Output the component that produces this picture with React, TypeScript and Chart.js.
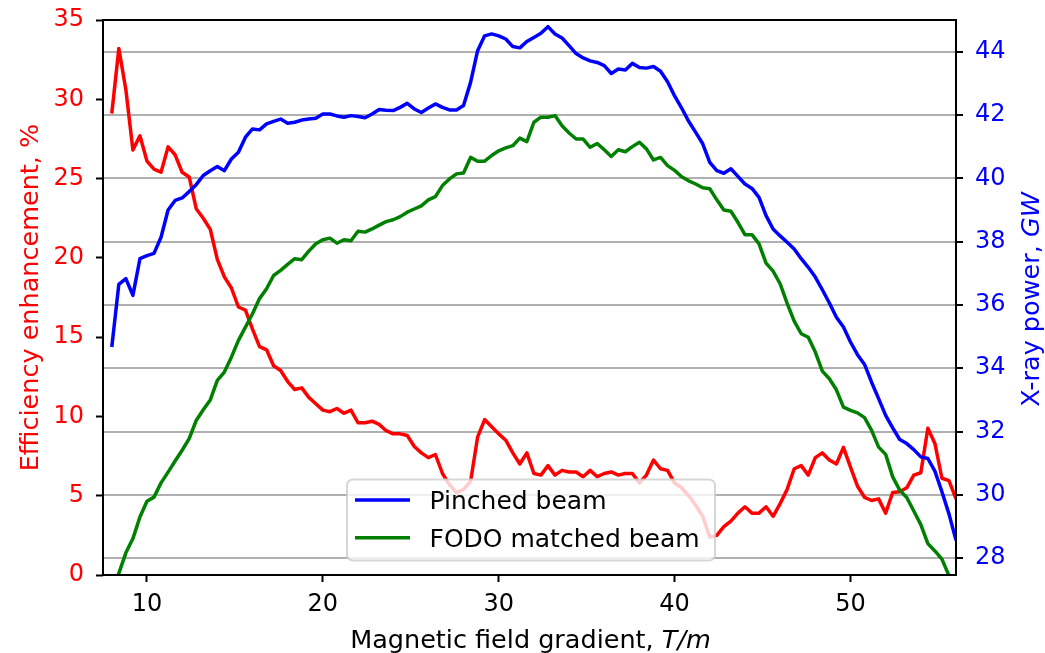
import React, { useEffect, useRef } from "react";
import { Chart, registerables } from "chart.js";

Chart.register(...registerables);

// Magnetic field gradient, T/m
const gradient = [
  8.0, 8.4, 8.8, 9.2, 9.6, 10.0, 10.4, 10.8, 11.2, 11.6, 12.0, 12.4, 12.8, 13.2, 13.6, 14.0, 14.4, 14.8, 15.2, 15.6,
  16.0, 16.4, 16.8, 17.2, 17.6, 18.0, 18.4, 18.8, 19.2, 19.6, 20.0, 20.4, 20.8, 21.2, 21.6, 22.0, 22.4, 22.8, 23.2, 23.6,
  24.0, 24.4, 24.8, 25.2, 25.6, 26.0, 26.4, 26.8, 27.2, 27.6, 28.0, 28.4, 28.8, 29.2, 29.6, 30.0, 30.4, 30.8, 31.2, 31.6,
  32.0, 32.4, 32.8, 33.2, 33.6, 34.0, 34.4, 34.8, 35.2, 35.6, 36.0, 36.4, 36.8, 37.2, 37.6, 38.0, 38.4, 38.8, 39.2, 39.6,
  40.0, 40.4, 40.8, 41.2, 41.6, 42.0, 42.4, 42.8, 43.2, 43.6, 44.0, 44.4, 44.8, 45.2, 45.6, 46.0, 46.4, 46.8, 47.2, 47.6,
  48.0, 48.4, 48.8, 49.2, 49.6, 50.0, 50.4, 50.8, 51.2, 51.6, 52.0, 52.4, 52.8, 53.2, 53.6, 54.0, 54.4, 54.8, 55.2, 55.6,
  56.0,
];

// Efficiency enhancement, % (left axis)
const efficiency = [
  29.1, 33.2, 30.6, 26.8, 27.7, 26.1, 25.6, 25.4, 27.0, 26.5, 25.4, 25.1, 23.1, 22.5, 21.8, 19.9, 18.8, 18.1, 16.9, 16.7,
  15.5, 14.4, 14.2, 13.2, 12.9, 12.2, 11.7, 11.8, 11.2, 10.8, 10.4, 10.3, 10.5, 10.2, 10.4, 9.6, 9.6, 9.7, 9.5, 9.1,
  8.9, 8.9, 8.8, 8.1, 7.7, 7.4, 7.6, 6.4, 5.7, 5.2, 5.4, 5.9, 8.7, 9.8, 9.35, 8.9, 8.5, 7.7, 7.0, 7.7,
  6.4, 6.3, 6.9, 6.3, 6.6, 6.5, 6.5, 6.2, 6.6, 6.2, 6.4, 6.5, 6.3, 6.4, 6.4, 5.8, 6.3, 7.25, 6.7, 6.6,
  5.8, 5.5, 5.0, 4.4, 3.7, 2.4, 2.5, 3.05, 3.4, 3.9, 4.3, 3.9, 3.9, 4.3, 3.7, 4.5, 5.4, 6.7, 6.9, 6.3,
  7.4, 7.7, 7.25, 7.0, 8.05, 6.8, 5.6, 4.9, 4.7, 4.8, 3.9, 5.2, 5.25, 5.5, 6.3, 6.45, 9.25, 8.3, 6.1, 5.95,
  4.8,
];

// X-ray power, GW (right axis) - Pinched beam
const pinchedPower = [
  34.67, 36.65, 36.83, 36.3, 37.46, 37.56, 37.63, 38.14, 39.0, 39.3, 39.38, 39.58, 39.8, 40.09, 40.24, 40.37, 40.24, 40.61, 40.82, 41.3,
  41.56, 41.53, 41.72, 41.8, 41.87, 41.74, 41.77, 41.84, 41.87, 41.9, 42.03, 42.03, 41.97, 41.93, 41.98, 41.95, 41.91, 42.03, 42.17, 42.15,
  42.14, 42.24, 42.37, 42.19, 42.08, 42.22, 42.35, 42.24, 42.16, 42.16, 42.3, 43.03, 44.03, 44.5, 44.56, 44.5, 44.4, 44.16, 44.12, 44.32,
  44.45, 44.58, 44.79, 44.56, 44.43, 44.19, 43.94, 43.8, 43.71, 43.66, 43.56, 43.31, 43.45, 43.42, 43.63, 43.5, 43.48, 43.53, 43.38, 43.05,
  42.6, 42.22, 41.8, 41.45, 41.09, 40.5, 40.24, 40.16, 40.3, 40.06, 39.82, 39.68, 39.4, 38.82, 38.4, 38.18, 37.98, 37.77, 37.46, 37.19,
  36.88, 36.48, 36.06, 35.61, 35.3, 34.83, 34.43, 34.12, 33.56, 33.04, 32.51, 32.12, 31.75, 31.62, 31.43, 31.2, 31.15, 30.75, 30.1, 29.4,
  28.57,
];

// X-ray power, GW (right axis) - FODO matched beam
const fodoPower = [
  27.1, 27.52, 28.17, 28.62, 29.3, 29.8, 29.93, 30.38, 30.72, 31.07, 31.41, 31.78, 32.35, 32.69, 33.0, 33.62, 33.88, 34.35, 34.88, 35.3,
  35.72, 36.2, 36.51, 36.93, 37.09, 37.28, 37.46, 37.43, 37.7, 37.93, 38.06, 38.11, 37.95, 38.06, 38.03, 38.33, 38.3, 38.4, 38.52, 38.63,
  38.69, 38.79, 38.93, 39.03, 39.13, 39.32, 39.42, 39.77, 39.98, 40.14, 40.17, 40.66, 40.54, 40.54, 40.72, 40.87, 40.96, 41.03, 41.27, 41.16,
  41.77, 41.93, 41.93, 41.98, 41.66, 41.43, 41.24, 41.24, 40.98, 41.1, 40.9, 40.69, 40.9, 40.84, 41.0, 41.14, 40.93, 40.58, 40.66, 40.4,
  40.25, 40.05, 39.92, 39.82, 39.7, 39.67, 39.32, 39.0, 38.96, 38.61, 38.22, 38.22, 37.93, 37.32, 37.07, 36.67, 36.05, 35.49, 35.09, 34.98,
  34.51, 33.91, 33.67, 33.32, 32.77, 32.67, 32.59, 32.44, 32.04, 31.51, 31.28, 30.57, 30.15, 29.92, 29.49, 29.06, 28.46, 28.23, 27.97, 27.45,
  26.9,
];

const xTicks = [10, 20, 30, 40, 50];
const leftTicks = [0, 5, 10, 15, 20, 25, 30, 35];
const rightTicks = [28, 30, 32, 34, 36, 38, 40, 42, 44];

const seriesLabels = ["Pinched beam", "FODO matched beam", "Efficiency enhancement"];
const xTitle = [
  { text: "Magnetic field gradient, ", italic: false },
  { text: "T/m", italic: true },
];
const leftTitle = [{ text: "Efficiency enhancement, %", italic: false }];
const rightTitle = [
  { text: "X-ray power, ", italic: false },
  { text: "GW", italic: true },
];

const FONT = "'DejaVu Sans', sans-serif";
const TITLE_SIZE = 25.5;

function drawMixed(ctx: CanvasRenderingContext2D, segs: { text: string; italic: boolean }[], x: number, y: number, color: string) {
  const fontFor = (it: boolean) => `${it ? "italic " : ""}${TITLE_SIZE}px ${FONT}`;
  let total = 0;
  const widths = segs.map((s) => {
    ctx.font = fontFor(s.italic);
    const w = ctx.measureText(s.text).width;
    total += w;
    return w;
  });
  let cx = x - total / 2;
  ctx.fillStyle = color;
  ctx.textAlign = "left";
  ctx.textBaseline = "alphabetic";
  segs.forEach((s, i) => {
    ctx.font = fontFor(s.italic);
    ctx.fillText(s.text, cx, y);
    cx += widths[i];
  });
}

const noPadY = (width: number) => (s: any) => {
  s.width = width;
  s.paddingTop = 0;
  s.paddingBottom = 0;
};

export default function App() {
  const ref = useRef<HTMLCanvasElement>(null);

  useEffect(() => {
    if (!ref.current) return;
    const pts = (ys: number[]) => gradient.map((x, i) => ({ x, y: ys[i] }));

    const framePlugin = {
      id: "frameLegendTitles",
      afterDatasetsDraw(chart: any) {
        const { ctx, chartArea: ca } = chart;
        ctx.save();
        ctx.strokeStyle = "#000";
        ctx.lineWidth = 2;
        ctx.strokeRect(ca.left, ca.top, ca.right - ca.left, ca.bottom - ca.top);

        // legend
        const x0 = ca.left + 244;
        const y0 = ca.bottom - 95.5;
        const w = 368;
        const h = 81;
        const r = 6;
        ctx.beginPath();
        ctx.moveTo(x0 + r, y0);
        ctx.lineTo(x0 + w - r, y0);
        ctx.arcTo(x0 + w, y0, x0 + w, y0 + r, r);
        ctx.lineTo(x0 + w, y0 + h - r);
        ctx.arcTo(x0 + w, y0 + h, x0 + w - r, y0 + h, r);
        ctx.lineTo(x0 + r, y0 + h);
        ctx.arcTo(x0, y0 + h, x0, y0 + h - r, r);
        ctx.lineTo(x0, y0 + r);
        ctx.arcTo(x0, y0, x0 + r, y0, r);
        ctx.closePath();
        ctx.fillStyle = "rgba(255,255,255,0.8)";
        ctx.fill();
        ctx.strokeStyle = "rgba(204,204,204,0.8)";
        ctx.lineWidth = 2;
        ctx.stroke();

        const items = chart.data.datasets.filter((d: any) => d.inLegend);
        items.forEach((d: any, k: number) => {
          const ly = y0 + 20.5 + k * 37.7;
          ctx.beginPath();
          ctx.moveTo(x0 + 8, ly);
          ctx.lineTo(x0 + 63, ly);
          ctx.strokeStyle = d.borderColor;
          ctx.lineWidth = 3.5;
          ctx.stroke();
          ctx.fillStyle = "#000";
          ctx.font = `25px ${FONT}`;
          ctx.textAlign = "left";
          ctx.textBaseline = "alphabetic";
          ctx.fillText(d.label, x0 + 82.5, ly + 9.3);
        });
        ctx.restore();
      },
      afterDraw(chart: any) {
        const { ctx, chartArea: ca } = chart;
        const midY = (ca.top + ca.bottom) / 2;
        ctx.save();
        drawMixed(ctx, xTitle, (ca.left + ca.right) / 2 + 1, 648, "#000");
        ctx.restore();

        ctx.save();
        ctx.translate(37.5, midY);
        ctx.rotate(-Math.PI / 2);
        drawMixed(ctx, leftTitle, 0, 0, "#ff0000");
        ctx.restore();

        ctx.save();
        ctx.translate(1039, midY + 2);
        ctx.rotate(-Math.PI / 2);
        drawMixed(ctx, rightTitle, 0, 0, "#0000ff");
        ctx.restore();
      },
    };

    const tickFont = { family: FONT, size: 24 };

    const chart = new Chart(ref.current, {
      type: "line",
      data: {
        datasets: [
          {
            label: seriesLabels[0],
            data: pts(pinchedPower),
            yAxisID: "yR",
            borderColor: "#0000ff",
            backgroundColor: "#0000ff",
            borderWidth: 3.5,
            pointRadius: 0,
            tension: 0,
            borderJoinStyle: "round",
            inLegend: true,
          } as any,
          {
            label: seriesLabels[1],
            data: pts(fodoPower),
            yAxisID: "yR",
            borderColor: "#008000",
            backgroundColor: "#008000",
            borderWidth: 3.5,
            pointRadius: 0,
            tension: 0,
            borderJoinStyle: "round",
            inLegend: true,
          } as any,
          {
            label: seriesLabels[2],
            data: pts(efficiency),
            yAxisID: "yL",
            borderColor: "#ff0000",
            backgroundColor: "#ff0000",
            borderWidth: 3.5,
            pointRadius: 0,
            tension: 0,
            borderJoinStyle: "round",
            inLegend: false,
          } as any,
        ],
      },
      options: {
        responsive: false,
        animation: false,
        devicePixelRatio: 1,
        layout: { padding: { top: 20, left: 0, right: 0, bottom: 0 } },
        plugins: {
          legend: { display: false },
          tooltip: { enabled: false },
          title: { display: false },
        },
        scales: {
          x: {
            type: "linear",
            position: "bottom",
            min: 7.5,
            max: 56.0,
            afterBuildTicks: (s: any) => {
              s.ticks = xTicks.map((v) => ({ value: v }));
            },
            afterFit: (s: any) => {
              s.height = 78;
              s.paddingLeft = 0;
              s.paddingRight = 0;
            },
            ticks: { font: tickFont, color: "#000", padding: 8, maxRotation: 0, autoSkip: false },
            grid: { drawOnChartArea: false, tickLength: 7, tickWidth: 2, tickColor: "#000" },
            border: { display: false },
          },
          yL: {
            type: "linear",
            position: "left",
            min: 0,
            max: 35,
            afterBuildTicks: (s: any) => {
              s.ticks = leftTicks.map((v) => ({ value: v }));
            },
            afterFit: noPadY(103),
            ticks: { font: tickFont, color: "#ff0000", padding: 12, autoSkip: false },
            grid: { drawOnChartArea: false, tickLength: 7, tickWidth: 2, tickColor: "#000" },
            border: { display: false },
          },
          yR: {
            type: "linear",
            position: "right",
            min: 27.47,
            max: 45.0,
            afterBuildTicks: (s: any) => {
              s.ticks = rightTicks.map((v) => ({ value: v }));
            },
            afterFit: noPadY(89),
            ticks: { font: tickFont, color: "#0000ff", padding: 12, autoSkip: false },
            grid: { drawOnChartArea: true, color: "#b0b0b0", lineWidth: 2, tickLength: 7, tickWidth: 2, tickColor: "#000" },
            border: { display: false },
          },
        },
      } as any,
      plugins: [framePlugin],
    });

    return () => chart.destroy();
  }, []);

  return (
    <div style={{ position: "absolute", left: 0, top: 0, width: 1045, height: 653, background: "#fff" }}>
      <canvas ref={ref} width={1045} height={653} style={{ display: "block" }} />
    </div>
  );
}
